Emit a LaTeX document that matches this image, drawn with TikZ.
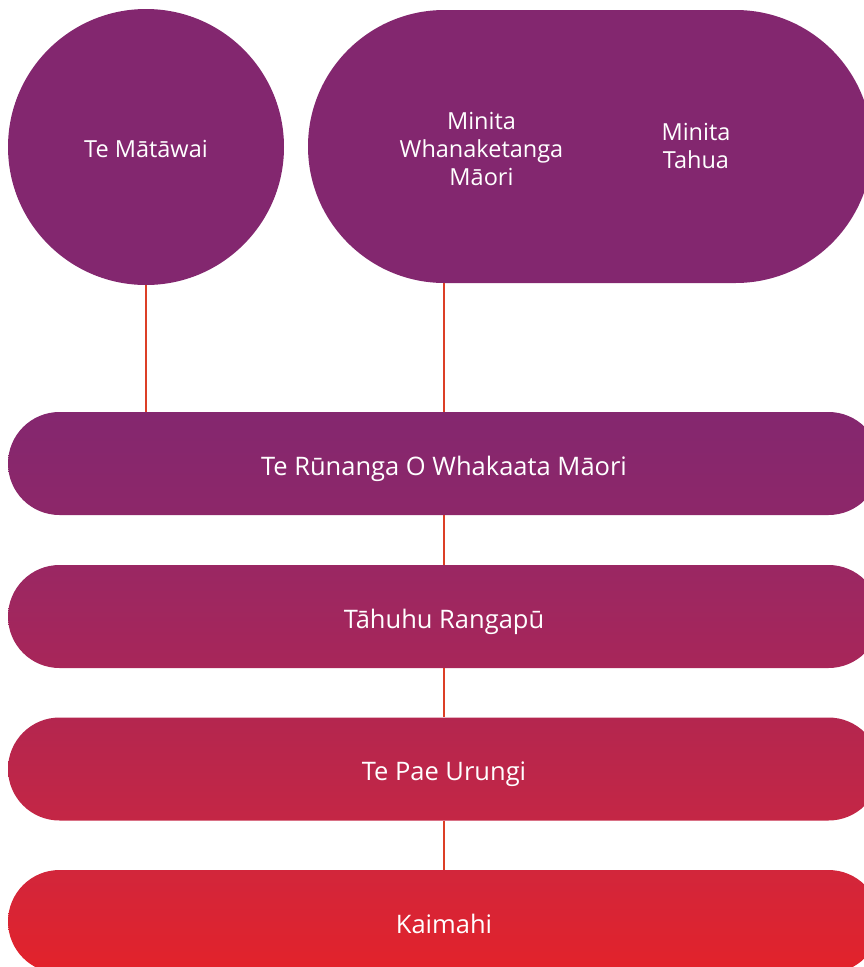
\documentclass[tikz,border=0pt]{standalone}
\usepackage{fontspec}
\setmainfont{Open Sans}
\definecolor{plum}{HTML}{83276F}
\definecolor{linkred}{HTML}{DC3F26}
\definecolor{rAtop}{HTML}{84276F}
\definecolor{rAbot}{HTML}{8D2769}
\definecolor{rBtop}{HTML}{9A2763}
\definecolor{rBbot}{HTML}{A82659}
\definecolor{rCtop}{HTML}{B4264F}
\definecolor{rCbot}{HTML}{C42645}
\definecolor{rDtop}{HTML}{D2263B}
\definecolor{rDbot}{HTML}{E3222A}
\tikzset{
  topshape/.style={fill=plum, draw=none, inner sep=0pt},
  rowbox/.style={draw=none, text=white, minimum width=872pt, minimum height=103pt,
    rounded corners=51.5pt, inner sep=0pt, text height=23pt, text depth=0pt,
    font=\fontsize{25.5}{28}\selectfont},
  toptext/.style={text=white, align=center, inner sep=0pt, anchor=base,
    font=\fontsize{23.5}{28}\selectfont},
  link/.style={draw=linkred, line width=1.6pt}
}
\begin{document}
\begin{tikzpicture}[x=1pt,y=-1pt]
\useasboundingbox (0,0) rectangle (864,967);
\clip (0,0) rectangle (864,967);
% nodes
\node[topshape, circle, minimum size=276pt] (matawai) at (146,147) {};
\node[toptext] (matawaitxt) at (146,157) {Te Mātāwai};
\node[topshape, rectangle, rounded corners=136.5pt, minimum width=564pt, minimum height=273pt] (ministers) at (590,146.5) {};
\node[toptext] (mwm) at (481.5,185) {Minita\\Whanaketanga\\Māori};
\node[toptext] (mt) at (696,168) {Minita\\Tahua};
\node[rowbox, top color=rAtop, bottom color=rAbot] (runanga) at (444,463.5) {Te Rūnanga O Whakaata Māori};
\node[rowbox, top color=rBtop, bottom color=rBbot] (tahuhu) at (444,616.5) {Tāhuhu Rangapū};
\node[rowbox, top color=rCtop, bottom color=rCbot] (paeurungi) at (444,769) {Te Pae Urungi};
\node[rowbox, top color=rDtop, bottom color=rDbot] (kaimahi) at (444,921.5) {Kaimahi};
% connectors
\draw[link] (matawai.south) -- (matawai.south |- runanga.north);
\draw[link] (ministers.south -| runanga.north) -- (runanga.north);
\draw[link] (runanga.south) -- (tahuhu.north);
\draw[link] (tahuhu.south) -- (paeurungi.north);
\draw[link] (paeurungi.south) -- (kaimahi.north);
\end{tikzpicture}
\end{document}
